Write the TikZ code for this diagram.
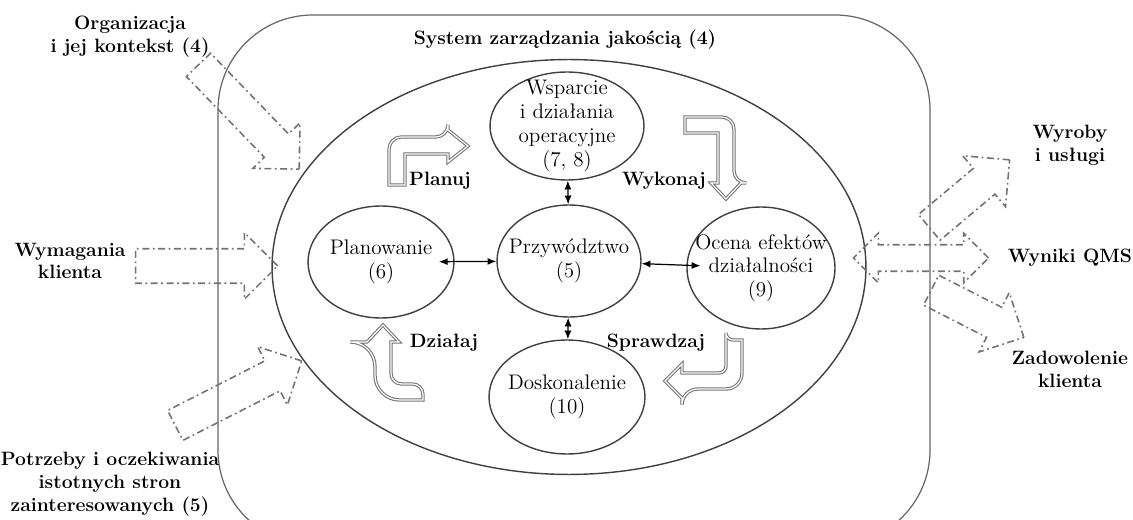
\documentclass[tikz,border=0pt]{standalone}
\usetikzlibrary{shapes.geometric,shapes.arrows,arrows.meta}
\tikzset{
  sysbox/.style={draw=black!60, line width=0.7pt, rounded corners=54pt},
  ell/.style={ellipse, draw=black!75, line width=0.8pt, inner sep=-12pt,
    align=center, font=\fontsize{12}{13.5}\selectfont},
  lbl/.style={align=center, font=\fontsize{11}{13}\selectfont\bfseries},
  dsh/.style={draw=black!55, line width=0.9pt, inner xsep=0pt,
    dash pattern=on 4pt off 2pt on 1pt off 2pt},
  blk/.style={fill=white, draw=black!55, line width=0.6pt,
    double=white, double distance=0.7pt},
  link/.style={{Latex[length=5pt,width=4pt]}-{Latex[length=5pt,width=4pt]}, line width=0.7pt}
}
\begin{document}
\begin{tikzpicture}[x=0.02cm,y=-0.02cm]
\useasboundingbox (0,0) rectangle (1133,520);
\clip (0,0) rectangle (1133,520);
%% system box
\draw[sysbox] (218,15) rectangle (930,545);
\node[lbl] (systitle) at (565,40) {System zarządzania jakością (4)};
\node[ellipse, draw=black!75, line width=0.8pt, minimum width=11.88cm,
  minimum height=8.3cm] (qms) at (569,267) {};
%% inner ellipses
\node[ell, minimum width=3.08cm, minimum height=2.16cm] (wsp) at (567,126)
  {Wsparcie\\i działania\\operacyjne\\(7, 8)};
\node[ell, minimum width=2.88cm, minimum height=2.24cm] (prz) at (569,261)
  {Przywództwo\\(5)};
\node[ell, minimum width=2.92cm, minimum height=2.24cm] (pla) at (381,262)
  {Planowanie\\(6)};
\node[ell, minimum width=2.96cm, minimum height=2.44cm] (oce) at (761,268)
  {Ocena efektów\\działalności\\(9)};
\node[ell, minimum width=3.12cm, minimum height=2.28cm] (dos) at (567,397)
  {Doskonalenie\\(10)};
\draw[link] (wsp) -- (prz);
\draw[link] (prz) -- (dos);
\draw[link, shorten <=-9pt] (pla) -- (prz);
\draw[link, shorten >=-8pt] (prz) -- (oce);
%% PDCA arrows
\draw[blk] (389,185) [rounded corners=7pt] -- (389,137) -- (448,137)
  [sharp corners] -- (448,130) -- (468,146) -- (448,162) -- (448,154)
  -- (405,154) -- (405,185) -- cycle;
\draw[blk] (685,117) [rounded corners=7pt] -- (734,117) -- (734,183)
  [sharp corners] -- (741,183) -- (726,199) -- (711,183) -- (718,183)
  -- (718,133) -- (685,133) -- cycle;
\draw[blk] (726,340) -- (742,340) [rounded corners=9pt] -- (742,389)
  -- (682,389) [sharp corners] -- (682,398) -- (665,381) -- (682,364)
  -- (682,373) [rounded corners=4pt] -- (726,373) -- (726,340) -- cycle;
\draw[blk] (423,400) [rounded corners=14pt] -- (375,400) -- (375,342)
  [sharp corners] -- (367,342) -- (383,325) -- (399,342) -- (391,342)
  [rounded corners=6pt] -- (391,384) -- (423,384) [sharp corners] -- cycle;
\node[lbl] (planuj) at (440,181) {Planuj};
\node[lbl] (wykonaj) at (664,181) {Wykonaj};
\node[lbl] (dzialaj) at (444,343) {Działaj};
\node[lbl] (sprawdzaj) at (656,343) {Sprawdzaj};
%% inputs
\node[dsh, single arrow, inner ysep=0.32cm, single arrow head extend=0.32cm,
  minimum height=2.9cm, rotate=-46] (orgarr) at (243,111) {};
\node[dsh, single arrow, inner ysep=0.33cm, single arrow head extend=0.32cm,
  minimum height=2.84cm] (wymarr) at (198,266) {};
\node[dsh, single arrow, inner ysep=0.32cm, single arrow head extend=0.32cm,
  minimum height=2.84cm, rotate=27] (potarr) at (231,397) {};
\node[lbl] (org) at (130,37) {Organizacja\\i jej kontekst (4)};
\node[lbl] (wym) at (70,261) {Wymagania\\klienta};
\node[lbl] (pot) at (110,484) {Potrzeby i oczekiwania\\istotnych stron\\zainteresowanych (5)};
%% outputs
\node[dsh, double arrow, inner ysep=0.25cm, double arrow head extend=0.23cm,
  minimum height=2.7cm, minimum width=0.96cm] (wynarr) at (921,258) {};
\node[dsh, single arrow, inner ysep=0.32cm, single arrow head extend=0.33cm,
  minimum height=2.1cm, rotate=40] (wyrarr) at (963,199) {};
\node[dsh, single arrow, inner ysep=0.32cm, single arrow head extend=0.33cm,
  minimum height=2.08cm, rotate=-27] (zadarr) at (970,310) {};
\node[lbl] (wyr) at (1070,145) {Wyroby\\i usługi};
\node[lbl] (wyn) at (1070,258) {Wyniki QMS};
\node[lbl] (zad) at (1070,369) {Zadowolenie\\klienta};
\end{tikzpicture}
\end{document}
